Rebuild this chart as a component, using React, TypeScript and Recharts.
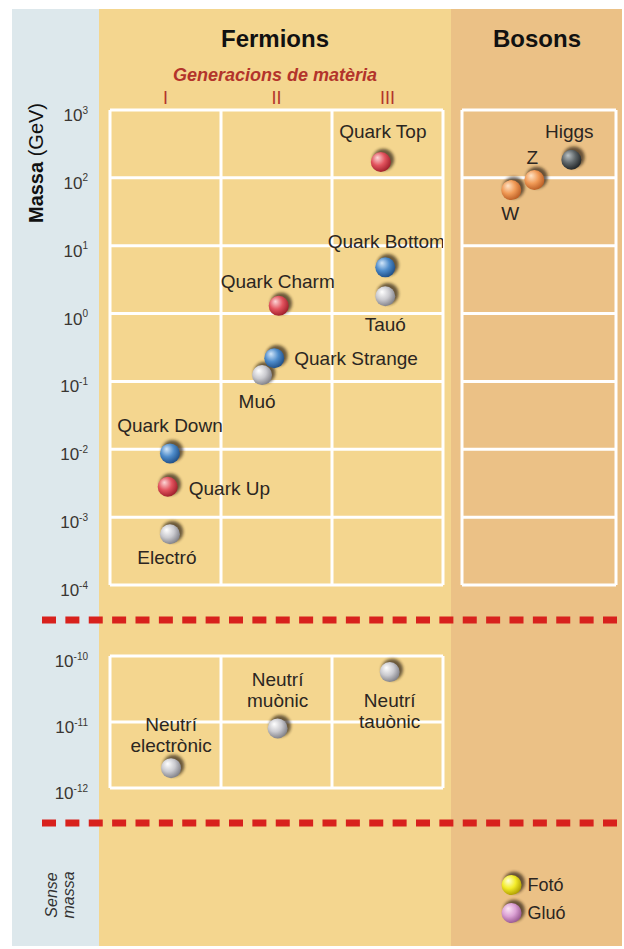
import React from 'react'
import { ScatterChart, Scatter, XAxis, YAxis, CartesianGrid, ReferenceLine } from 'recharts'

// generation columns and tick values
const GENERATIONS = ['I', 'II', 'III']
const GEN_TICKS = [1, 2, 3]
const GEN_BORDERS = [0.5, 1.5, 2.5, 3.5]
const MASS_TICKS = [1e-4, 1e-3, 1e-2, 1e-1, 1, 10, 100, 1000]
const NU_TICKS = [1e-12, 1e-11, 1e-10]

// fermions: mass in GeV, x = generation column
const upNames = ['Quark Up', 'Quark Charm', 'Quark Top']
const upGen = [1.02, 2.02, 2.94]
const upMass = [0.0028, 1.3, 171]

const downNames = ['Quark Down', 'Quark Strange', 'Quark Bottom']
const downGen = [1.04, 1.98, 2.98]
const downMass = [0.0087, 0.22, 4.8]

const leptonNames = ['Electró', 'Muó', 'Tauó']
const leptonGen = [1.04, 1.87, 2.98]
const leptonMass = [0.00056, 0.124, 1.8]

const nuNames = ['Neutrí electrònic', 'Neutrí muònic', 'Neutrí tauònic']
const nuGen = [1.05, 2.01, 3.02]
const nuMass = [2e-12, 8e-12, 5.7e-11]

// bosons
const wzNames = ['W', 'Z']
const wzPos = [0.32, 0.47]
const wzMass = [66, 93]

const higgsNames = ['Higgs']
const higgsPos = [0.71]
const higgsMass = [185]

const masslessNames = ['Fotó', 'Gluó']
const masslessPos = [0.35, 0.35]
const masslessRow = [1, 2]

const zip = (names: string[], xs: number[], ys: number[]) =>
    names.map((name, i) => ({ name, x: xs[i], y: ys[i] }))

const upQuarks = zip(upNames, upGen, upMass)
const downQuarks = zip(downNames, downGen, downMass)
const leptons = zip(leptonNames, leptonGen, leptonMass)
const neutrinos = zip(nuNames, nuGen, nuMass)
const wz = zip(wzNames, wzPos, wzMass)
const higgs = zip(higgsNames, higgsPos, higgsMass)
const massless = zip(masslessNames, masslessPos, masslessRow)

// highlight, body, rim
const BALLS: Record<string, string[]> = {
    red: ['#fcd6d6', '#e2535e', '#a3222e'],
    blue: ['#d3e7fa', '#4e8ccb', '#23538b'],
    silver: ['#ffffff', '#cacacf', '#85858c'],
    orange: ['#fee3c6', '#f19b57', '#bf6228'],
    dark: ['#bcc3c6', '#5f6669', '#25292b'],
    yellow: ['#ffffd6', '#f3ec2a', '#b3a304'],
    pink: ['#fce6f5', '#dba1d4', '#9d5d96'],
}

// label anchor, dx, dy (baseline offset from ball centre)
const LABELS: Record<string, [string, number, number]> = {
    'Quark Top': ['middle', 2, -24],
    'Quark Bottom': ['middle', 1, -19],
    'Tauó': ['middle', 0, 35],
    'Quark Charm': ['middle', -1, -18],
    'Quark Strange': ['start', 20, 7],
    'Muó': ['middle', -5, 33],
    'Quark Down': ['middle', 0, -21],
    'Quark Up': ['start', 21, 8],
    'Electró': ['middle', -3, 30],
    'Higgs': ['middle', -2, -22],
    'Z': ['middle', -2, -16],
    'W': ['middle', -1, 30],
    'Neutrí electrònic': ['middle', 0, -37],
    'Neutrí muònic': ['middle', 0, -42],
    'Neutrí tauònic': ['middle', 0, 35],
    'Fotó': ['start', 16, 6],
    'Gluó': ['start', 16, 6],
}

const FONT = '"Liberation Sans", Arial, Helvetica, sans-serif'

const makeBall = (color: string, fontSize = 19) => (props: any) => {
    const { cx, cy, payload } = props
    const [anchor, dx, dy] = LABELS[payload.name] || ['middle', 0, -20]
    const lines = payload.name.startsWith('Neutrí') ? payload.name.split(' ') : [payload.name]
    return (
        <g>
            <circle cx={cx + 2.5} cy={cy - 2.5} r={10.8} fill="#24180c" opacity={0.65} filter="url(#ballShadow)" />
            <circle cx={cx} cy={cy} r={10} fill={`url(#ball-${color})`} />
            <text x={cx + dx} y={cy + dy} textAnchor={anchor as any} fontSize={fontSize} fontFamily={FONT} fill="#2b2622">
                {lines.map((l: string, i: number) => (
                    <tspan key={i} x={cx + dx} dy={i === 0 ? 0 : 21}>{l}</tspan>
                ))}
            </text>
        </g>
    )
}

const PowerTick = (props: any) => {
    const { x, y, payload } = props
    const exp = Math.round(Math.log10(payload.value))
    return (
        <text x={x} y={y + 11} textAnchor="end" fontSize={17} fontFamily={FONT} fill="#3a3632">
            10<tspan dy={-7.5} fontSize={10}>{exp}</tspan>
        </text>
    )
}

const RomanTick = (props: any) => {
    const { x, y, payload } = props
    return (
        <text x={x} y={y} textAnchor="middle" fontSize={18} fontFamily={FONT} fill="#b3342b">
            {GENERATIONS[GEN_TICKS.indexOf(payload.value)]}
        </text>
    )
}

const gridProps = { vertical: false, stroke: '#ffffff', strokeWidth: 3, strokeOpacity: 1 }

export default function App() {
    return (
        <div style={{ position: 'absolute', left: 0, top: 0, width: 624, height: 949, background: '#fff', overflow: 'hidden', fontFamily: FONT }}>
            <svg width={0} height={0} style={{ position: 'absolute' }}>
                <defs>
                    {Object.entries(BALLS).map(([k, [hi, mid, lo]]) => (
                        <radialGradient key={k} id={`ball-${k}`} cx="40%" cy="38%" r="62%" fx="33%" fy="28%">
                            <stop offset="0%" stopColor={hi} />
                            <stop offset="55%" stopColor={mid} />
                            <stop offset="100%" stopColor={lo} />
                        </radialGradient>
                    ))}
                    <filter id="ballShadow" x="-50%" y="-50%" width="200%" height="200%">
                        <feGaussianBlur stdDeviation="1.6" />
                    </filter>
                </defs>
            </svg>

            {/* panels */}
            <div style={{ position: 'absolute', left: 12, top: 9, width: 87, height: 937, background: '#dde8ec' }} />
            <div style={{ position: 'absolute', left: 99, top: 9, width: 352, height: 937, background: '#f4d68f' }} />
            <div style={{ position: 'absolute', left: 451, top: 9, width: 171, height: 937, background: '#ebc186' }} />

            <svg width={624} height={949} style={{ position: 'absolute', left: 0, top: 0 }}>
                <text x={275} y={47} textAnchor="middle" fontSize={24} fontWeight="bold" fill="#111">Fermions</text>
                <text x={537} y={47} textAnchor="middle" fontSize={24} fontWeight="bold" fill="#111">Bosons</text>
                <text x={275} y={81} textAnchor="middle" fontSize={18} fontWeight="bold" fontStyle="italic" fill="#b3342b">
                    Generacions de matèria
                </text>
                <text transform="translate(43,163) rotate(-90)" textAnchor="middle" fontSize={20} fill="#111">
                    <tspan fontWeight="bold">Massa</tspan> (GeV)
                </text>
                <text transform="translate(57,895) rotate(-90)" textAnchor="middle" fontSize={16} fontStyle="italic" fill="#333">Sense</text>
                <text transform="translate(74,895) rotate(-90)" textAnchor="middle" fontSize={16} fontStyle="italic" fill="#333">massa</text>
                <line x1={42} x2={617} y1={620} y2={620} stroke="#d8211d" strokeWidth={7} strokeDasharray="14 9.375" />
                <line x1={42} x2={617} y1={823} y2={823} stroke="#d8211d" strokeWidth={7} strokeDasharray="14 9.375" />
            </svg>

            {/* fermions with mass */}
            <div style={{ position: 'absolute', left: 0, top: 0 }}>
                <ScatterChart width={460} height={620} margin={{ top: 90, right: 17, bottom: 35, left: 0 }}>
                    <CartesianGrid {...gridProps} />
                    <XAxis type="number" dataKey="x" orientation="top" domain={[0.5, 3.5]} ticks={GEN_TICKS} interval={0}
                        height={20} axisLine={false} tickLine={false} tickSize={0} tickMargin={6} tick={<RomanTick />} allowDataOverflow />
                    <YAxis type="number" dataKey="y" scale="log" domain={[1e-4, 1e3]} ticks={MASS_TICKS} interval={0}
                        width={110} axisLine={false} tickLine={false} tickSize={0} tickMargin={22} tick={<PowerTick />} allowDataOverflow />
                    {GEN_BORDERS.map(v => <ReferenceLine key={v} x={v} stroke="#ffffff" strokeWidth={3} />)}
                    <Scatter data={leptons} shape={makeBall('silver')} isAnimationActive={false} />
                    <Scatter data={upQuarks} shape={makeBall('red')} isAnimationActive={false} />
                    <Scatter data={downQuarks} shape={makeBall('blue')} isAnimationActive={false} />
                </ScatterChart>
            </div>

            {/* bosons with mass */}
            <div style={{ position: 'absolute', left: 451, top: 0 }}>
                <ScatterChart width={173} height={620} margin={{ top: 110, right: 8, bottom: 35, left: 11 }}>
                    <CartesianGrid {...gridProps} />
                    <XAxis type="number" dataKey="x" domain={[0, 1]} hide allowDataOverflow />
                    <YAxis type="number" dataKey="y" scale="log" domain={[1e-4, 1e3]} ticks={MASS_TICKS} interval={0} hide allowDataOverflow />
                    <ReferenceLine x={0} stroke="#ffffff" strokeWidth={3} />
                    <ReferenceLine x={1} stroke="#ffffff" strokeWidth={3} />
                    <Scatter data={wz} shape={makeBall('orange')} isAnimationActive={false} />
                    <Scatter data={higgs} shape={makeBall('dark')} isAnimationActive={false} />
                </ScatterChart>
            </div>

            {/* neutrinos */}
            <div style={{ position: 'absolute', left: 0, top: 620 }}>
                <ScatterChart width={460} height={200} margin={{ top: 36, right: 17, bottom: 32, left: 0 }}>
                    <CartesianGrid {...gridProps} />
                    <XAxis type="number" dataKey="x" domain={[0.5, 3.5]} hide allowDataOverflow />
                    <YAxis type="number" dataKey="y" scale="log" domain={[1e-12, 1e-10]} ticks={NU_TICKS} interval={0}
                        width={110} axisLine={false} tickLine={false} tickSize={0} tickMargin={22} tick={<PowerTick />} allowDataOverflow />
                    {GEN_BORDERS.map(v => <ReferenceLine key={v} x={v} stroke="#ffffff" strokeWidth={3} />)}
                    <Scatter data={neutrinos} shape={makeBall('silver')} isAnimationActive={false} />
                </ScatterChart>
            </div>

            {/* massless */}
            <div style={{ position: 'absolute', left: 451, top: 854 }}>
                <ScatterChart width={173} height={90} margin={{ top: 17, right: 0, bottom: 17, left: 0 }}>
                    <XAxis type="number" dataKey="x" domain={[0, 1]} hide />
                    <YAxis type="number" dataKey="y" domain={[0.5, 2.5]} reversed hide />
                    <Scatter data={massless.slice(0, 1)} shape={makeBall('yellow', 18)} isAnimationActive={false} />
                    <Scatter data={massless.slice(1)} shape={makeBall('pink', 18)} isAnimationActive={false} />
                </ScatterChart>
            </div>
        </div>
    )
}
